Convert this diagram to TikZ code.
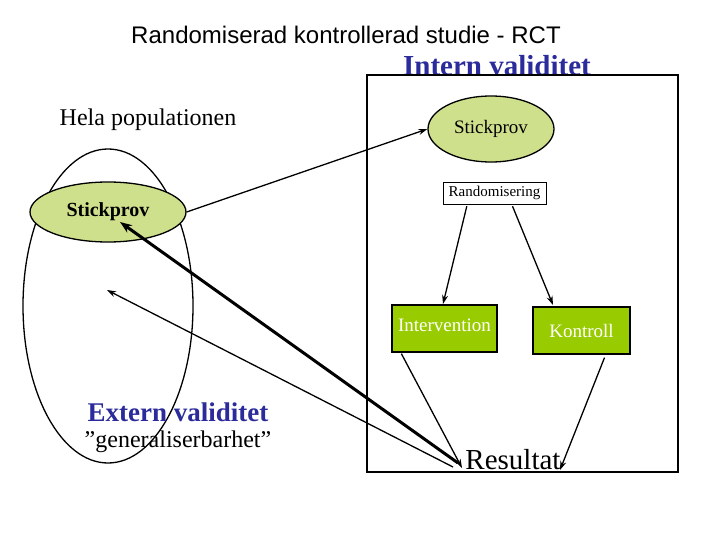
\documentclass[tikz,border=0pt]{standalone}
\usepackage{fontspec}
\setmainfont{Liberation Serif}
\newfontfamily\sansf{Liberation Sans}
\usetikzlibrary{shapes.geometric,arrows.meta}
\definecolor{pale}{HTML}{CFE08C}
\definecolor{grn}{HTML}{99CC00}
\definecolor{blu}{HTML}{2B2B9B}
\begin{document}
\begin{tikzpicture}[x=1pt,y=-1pt,
  arr/.style={-{Stealth[length=9pt,width=6pt]},line width=1.3pt},
  thick arr/.style={-{Stealth[length=12pt,width=9pt]},line width=3pt},
  samp/.style={ellipse,draw,line width=1.3pt,fill=pale,inner sep=0pt},
  gbox/.style={draw,line width=1.3pt,fill=grn,inner sep=0pt,text=white}]
\useasboundingbox (0,0) rectangle (720,540);
\node (title) at (346,35) {\sansf\fontsize{24}{28}\selectfont Randomiserad kontrollerad studie - RCT};
\node[text=blu] (intern) at (497,66) {\fontsize{29}{32}\selectfont\bfseries Intern validitet};
\node[draw,line width=1.3pt,minimum width=311pt,minimum height=397pt] (frame) at (522.5,273.5) {};
\node (hela) at (148,120) {\fontsize{24}{28}\selectfont Hela populationen};
\node[ellipse,draw,line width=1.3pt,minimum width=170pt,minimum height=314pt] (pop) at (108,306) {};
\node[samp,minimum width=156pt,minimum height=60pt] (s1) at (108,212) {\fontsize{20}{24}\selectfont\bfseries Stickprov};
\node[samp,minimum width=126pt,minimum height=66pt] (s2) at (491,129) {\fontsize{19}{22}\selectfont Stickprov};
\node[draw,minimum width=103pt,minimum height=22pt] (rand) at (494.5,193) {\fontsize{15}{18}\selectfont Randomisering};
\node[gbox,minimum width=105pt,minimum height=47pt] (int) at (444.5,328.5) {};
\node[text=white] (intt) at (444.5,325) {\fontsize{19}{22}\selectfont Intervention};
\node[gbox,minimum width=97pt,minimum height=47pt] (kon) at (581.5,330.5) {\fontsize{19}{22}\selectfont Kontroll};
\node (res) at (513,460) {\fontsize{29}{32}\selectfont Resultat};
\node[text=blu] (ext) at (178,412) {\fontsize{27}{30}\selectfont\bfseries Extern validitet};
\node (gen) at (178,442) {\fontsize{24}{28}\selectfont ”generaliserbarhet”};
\coordinate (pin) at (107,290);
\coordinate (rin) at (458,463);
\coordinate (rin2) at (453,467);
\coordinate (s1in) at (120,222);
\draw[arr] (s1.east) -- (s2.west);
\draw[arr] (rand.south west) ++(24,2) coordinate (r1) (r1) -- (443,304);
\draw[arr] (rand.south) ++(18,2) coordinate (r2) (r2) -- (553,305);
\draw[arr] (int.south west) ++(10,1) coordinate (i1) (i1) -- (462,468);
\draw[arr] (kon.south) ++(23,3) coordinate (k1) (k1) -- (560,470);
\draw[thick arr] (rin) -- (s1in);
\draw[arr] (rin2) -- (pin);
\end{tikzpicture}
\end{document}
